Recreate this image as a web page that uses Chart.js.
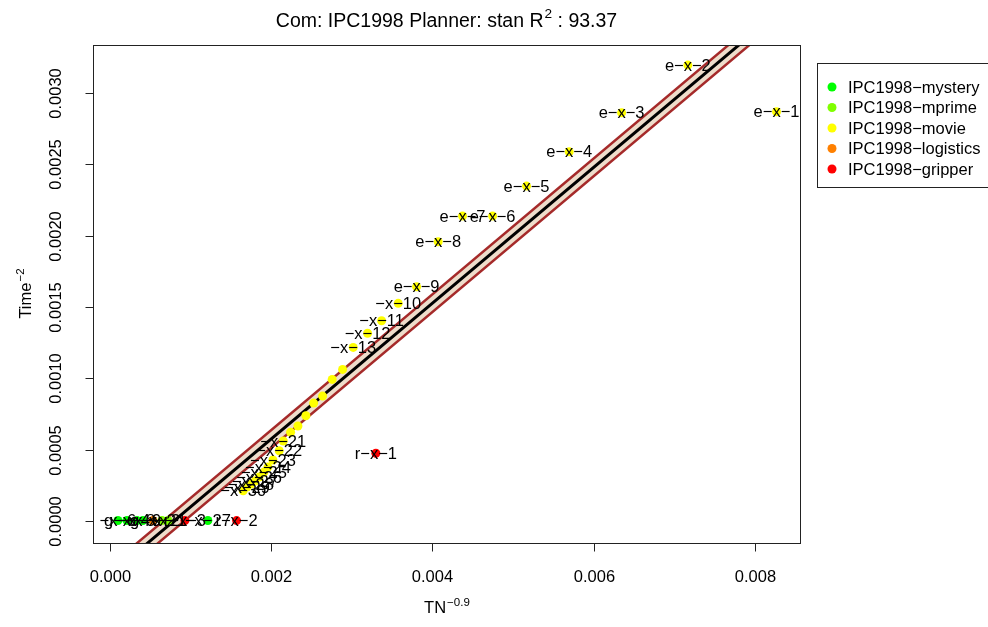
<!DOCTYPE html>
<html>
<head>
<meta charset="utf-8">
<script src="https://cdn.jsdelivr.net/npm/chart.js@4.4.1/dist/chart.umd.min.js"></script>
<style>
  html, body { margin: 0; padding: 0; background: #fff; }
  canvas { display: block; }
</style>
</head>
<body>
<canvas id="chart" width="988" height="627"></canvas>
<script>
// series (x = TN^-0.9, y = Time^-2)
const seriesNames = ['IPC1998−mystery', 'IPC1998−mprime', 'IPC1998−movie', 'IPC1998−logistics', 'IPC1998−gripper'];
const seriesColors = ['#00FF00', '#80FF00', '#FFFF00', '#FF8000', '#FF0000'];

const mysteryX = [0.000099, 0.000211, 0.000335, 0.000409, 0.001215];
const mysteryY = [0.000004, 0.000004, 0.000004, 0.000004, 0.000004];
const mysteryLabels = ['−x−6', 'g−x−4', '−x−8', '−x−9', '−x−27'];

const mprimeX = [0.000645, 0.00072];
const mprimeY = [0.000004, 0.000004];
const mprimeLabels = ['−x−2', '−x−1'];

const movieX = [0.008269, 0.007169, 0.006347, 0.005697, 0.005168, 0.004747, 0.004374, 0.004072, 0.003804, 0.003576,
  0.00337, 0.003196, 0.003018, 0.002886, 0.002757, 0.002638, 0.002527, 0.002431, 0.002332, 0.002241,
  0.00215, 0.0021, 0.002022, 0.00196, 0.00191, 0.00185, 0.0018, 0.00175, 0.0017, 0.001653];
const movieY = [0.002869, 0.003196, 0.002862, 0.002589, 0.002348, 0.002138, 0.002138, 0.001958, 0.001642, 0.001526,
  0.001404, 0.001316, 0.001217, 0.001063, 0.000993, 0.000876, 0.000827, 0.000738, 0.000666, 0.000622,
  0.000561, 0.000493, 0.000428, 0.000378, 0.000343, 0.000308, 0.00028, 0.000259, 0.000238, 0.000212];
const movieLabels = ['e−x−1', 'e−x−2', 'e−x−3', 'e−x−4', 'e−x−5', 'e−x−6', 'e−x−7', 'e−x−8', 'e−x−9', '−x−10',
  '−x−11', '−x−12', '−x−13', '', '', '', '', '', '', '',
  '−x−21', '−x−22', '−x−23', '−x−24', '−x−25', '−x−26', '−x−27', '−x−28', '−x−29', '−x−30'];

const logisticsX = [0.000533];
const logisticsY = [0.000004];
const logisticsLabels = ['g−x−2'];

const gripperX = [0.003299, 0.001571, 0.00093];
const gripperY = [0.000475, 0.000003, 0.000003];
const gripperLabels = ['r−x−1', 'r−x−2', 'r−x−3'];

// fitted line and band
const fitSlope = 0.476;
const fitIntercept = -0.000377;
const bandHalfWidth = 0.000062;
const lineX = [-0.0004, 0.009];

const xTicks = [0, 0.002, 0.004, 0.006, 0.008];
const xTickLabels = ['0.000', '0.002', '0.004', '0.006', '0.008'];
const yTicks = [0, 0.0005, 0.001, 0.0015, 0.002, 0.0025, 0.003];
const yTickLabels = ['0.0000', '0.0005', '0.0010', '0.0015', '0.0020', '0.0025', '0.0030'];

const FONT = "'Liberation Sans', Arial, Helvetica, sans-serif";

const toPoints = (xs, ys) => xs.map((x, i) => ({ x: x, y: ys[i] }));
const lineAt = (off) => lineX.map(x => ({ x: x, y: fitSlope * x + fitIntercept + off }));

const groups = [
  { x: mysteryX, y: mysteryY, labels: mysteryLabels, color: seriesColors[0], name: seriesNames[0] },
  { x: mprimeX, y: mprimeY, labels: mprimeLabels, color: seriesColors[1], name: seriesNames[1] },
  { x: movieX, y: movieY, labels: movieLabels, color: seriesColors[2], name: seriesNames[2] },
  { x: logisticsX, y: logisticsY, labels: logisticsLabels, color: seriesColors[3], name: seriesNames[3] },
  { x: gripperX, y: gripperY, labels: gripperLabels, color: seriesColors[4], name: seriesNames[4] }
];

const datasets = [
  {
    type: 'line', label: 'upper', data: lineAt(bandHalfWidth), borderColor: '#A52A2A', borderWidth: 2.5,
    backgroundColor: '#EEDDCB', fill: '+1', pointRadius: 0, order: 10
  },
  {
    type: 'line', label: 'lower', data: lineAt(-bandHalfWidth), borderColor: '#A52A2A', borderWidth: 2.5,
    fill: false, pointRadius: 0, order: 9
  },
  {
    type: 'line', label: 'fit', data: lineAt(0), borderColor: '#000', borderWidth: 3,
    fill: false, pointRadius: 0, order: 8
  }
];
groups.forEach(g => {
  datasets.push({
    type: 'scatter', label: g.name, data: toPoints(g.x, g.y), backgroundColor: g.color,
    borderWidth: 0, pointRadius: 4.5, order: 1
  });
});

function supText(ctx, base, sup, x, y, size, align) {
  ctx.font = size + 'px ' + FONT;
  const wb = ctx.measureText(base).width;
  ctx.font = (size * 0.7) + 'px ' + FONT;
  const ws = ctx.measureText(sup).width;
  let start = x;
  if (align === 'center') start = x - (wb + ws) / 2;
  ctx.textAlign = 'left';
  ctx.textBaseline = 'alphabetic';
  ctx.font = size + 'px ' + FONT;
  ctx.fillText(base, start, y);
  ctx.font = (size * 0.7) + 'px ' + FONT;
  ctx.fillText(sup, start + wb + 1, y - size * 0.45);
  return start + wb + 1 + ws;
}

const decorations = {
  id: 'decorations',
  afterDatasetsDraw(chart) {
    const ctx = chart.ctx;
    const xs = chart.scales.x, ys = chart.scales.y;
    ctx.save();
    ctx.fillStyle = '#000';
    ctx.font = '16.5px ' + FONT;
    ctx.textAlign = 'center';
    ctx.textBaseline = 'middle';
    groups.forEach(g => {
      g.labels.forEach((t, i) => {
        if (!t) return;
        ctx.fillText(t, xs.getPixelForValue(g.x[i]), ys.getPixelForValue(g.y[i]) + 1);
      });
    });
    ctx.restore();
  },
  afterDraw(chart) {
    const ctx = chart.ctx;
    const a = chart.chartArea;
    const xs = chart.scales.x, ys = chart.scales.y;
    ctx.save();
    ctx.strokeStyle = '#222';
    ctx.lineWidth = 1;
    ctx.strokeRect(Math.round(a.left) + 0.5, Math.round(a.top) + 0.5,
      Math.round(a.right - a.left), Math.round(a.bottom - a.top));

    // x axis
    const xp = xTicks.map(v => Math.round(xs.getPixelForValue(v)) + 0.5);
    const yb = Math.round(a.bottom) + 0.5;
    ctx.beginPath();
    ctx.moveTo(xp[0], yb); ctx.lineTo(xp[xp.length - 1], yb);
    xp.forEach(p => { ctx.moveTo(p, yb); ctx.lineTo(p, yb + 8); });
    ctx.stroke();
    ctx.fillStyle = '#000';
    ctx.font = '16.5px ' + FONT;
    ctx.textAlign = 'center';
    ctx.textBaseline = 'middle';
    xTickLabels.forEach((t, i) => ctx.fillText(t, xp[i], 577));

    // y axis
    const yp = yTicks.map(v => Math.round(ys.getPixelForValue(v)) + 0.5);
    const xl = Math.round(a.left) + 0.5;
    ctx.beginPath();
    ctx.moveTo(xl, yp[0]); ctx.lineTo(xl, yp[yp.length - 1]);
    yp.forEach(p => { ctx.moveTo(xl, p); ctx.lineTo(xl - 8, p); });
    ctx.stroke();
    yTickLabels.forEach((t, i) => {
      ctx.save();
      ctx.translate(56, yp[i]);
      ctx.rotate(-Math.PI / 2);
      ctx.fillText(t, 0, 0);
      ctx.restore();
    });

    // title with superscript
    const cx = (a.left + a.right) / 2;
    ctx.font = '19.5px ' + FONT;
    const w1 = ctx.measureText('Com: IPC1998 Planner: stan R').width;
    const w3 = ctx.measureText(' : 93.37').width;
    ctx.font = (19.5 * 0.7) + 'px ' + FONT;
    const w2 = ctx.measureText('2').width;
    const sx = cx - (w1 + 1 + w2 + w3) / 2;
    const endSup = supText(ctx, 'Com: IPC1998 Planner: stan R', '2', sx, 27, 19.5, 'left');
    ctx.font = '19.5px ' + FONT;
    ctx.textAlign = 'left';
    ctx.fillText(' : 93.37', endSup, 27);

    // axis titles
    supText(ctx, 'TN', '−0.9', cx, 613, 16.5, 'center');
    ctx.save();
    ctx.translate(31, (a.top + a.bottom) / 2);
    ctx.rotate(-Math.PI / 2);
    supText(ctx, 'Time', '−2', 0, 0, 16.5, 'center');
    ctx.restore();

    // legend (box runs past the right edge, as in the original)
    ctx.strokeStyle = '#222';
    ctx.lineWidth = 1;
    ctx.strokeRect(817.5, 63.5, 190, 124);
    ctx.font = '16.5px ' + FONT;
    ctx.textAlign = 'left';
    ctx.textBaseline = 'middle';
    groups.forEach((g, i) => {
      const yy = 87 + i * 20.5;
      ctx.fillStyle = g.color;
      ctx.beginPath();
      ctx.arc(832, yy, 4.5, 0, Math.PI * 2);
      ctx.fill();
      ctx.fillStyle = '#000';
      ctx.fillText(g.name, 848, yy + 1);
    });
    ctx.restore();
  }
};

new Chart(document.getElementById('chart'), {
  data: { datasets: datasets },
  options: {
    responsive: false,
    animation: false,
    events: [],
    layout: { padding: { left: 93, top: 45, right: 188, bottom: 84 } },
    plugins: { legend: { display: false }, tooltip: { enabled: false }, title: { display: false } },
    scales: {
      x: { type: 'linear', min: -0.00021, max: 0.00856, display: false },
      y: { type: 'linear', min: -0.000154, max: 0.003337, display: false }
    }
  },
  plugins: [decorations]
});
</script>
</body>
</html>
